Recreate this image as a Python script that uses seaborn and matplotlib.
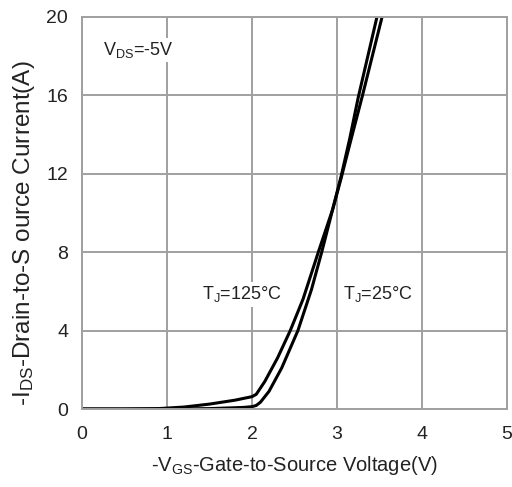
import matplotlib
matplotlib.use("Agg")
import matplotlib.pyplot as plt
import pandas as pd
import seaborn as sns

# Transfer characteristics: -I_DS versus -V_GS at V_DS = -5 V
vgs_125 = [0.0, 0.5, 0.9, 1.2, 1.5, 1.8, 2.0, 2.05, 2.15, 2.3, 2.45, 2.6, 2.78,
           2.95, 3.05, 3.15, 3.3, 3.53]
ids_125 = [0.0, 0.0, 0.02, 0.1, 0.25, 0.45, 0.63, 0.75, 1.4, 2.6, 4.0, 5.6, 8.0,
           10.2, 11.8, 13.5, 16.0, 20.0]

vgs_25 = [0.0, 1.0, 1.5, 1.9, 2.0, 2.05, 2.1, 2.2, 2.35, 2.54, 2.7, 2.82, 2.95,
          3.05, 3.15, 3.25, 3.47]
ids_25 = [0.0, 0.0, 0.02, 0.08, 0.12, 0.18, 0.35, 0.9, 2.1, 4.0, 6.1, 8.0, 10.2,
          11.9, 13.8, 15.9, 20.0]

x_ticks = [0, 1, 2, 3, 4, 5]
y_ticks = [0, 4, 8, 12, 16, 20]

sns.set_style("white")
plt.rcParams["font.family"] = ["Liberation Sans", "DejaVu Sans"]
plt.rcParams["mathtext.fontset"] = "custom"
plt.rcParams["mathtext.rm"] = "Liberation Sans"
plt.rcParams["mathtext.it"] = "Liberation Sans"

df = pd.concat([
    pd.DataFrame({"vgs": vgs_125, "ids": ids_125, "tj": "125"}),
    pd.DataFrame({"vgs": vgs_25, "ids": ids_25, "tj": "25"}),
])

fig = plt.figure(figsize=(5.12, 4.87), dpi=100)
ax = fig.add_axes([82 / 512, 1 - 409 / 487, (507 - 82) / 512, (409 - 17) / 487])

text_color = "#222222"
grid_color = "#a0a0a0"
sns.lineplot(data=df, x="vgs", y="ids", units="tj", estimator=None, sort=False,
             color="black", linewidth=2.2, ax=ax, legend=False)

ax.set_xlim(0, 5)
ax.set_ylim(0, 20)
ax.set_xticks(x_ticks)
ax.set_yticks(y_ticks)
ax.grid(True, color=grid_color, linewidth=1.4)
ax.set_axisbelow(True)
for s in ax.spines.values():
    s.set_color(grid_color)
    s.set_linewidth(1.4)
ax.tick_params(axis="both", length=0, labelsize=14, colors=text_color)
ax.tick_params(axis="x", pad=12)
ax.tick_params(axis="y", pad=10)

ax.set_xlabel(r"-V$_{\mathregular{GS}}$-Gate-to-Source Voltage(V)", fontsize=14.5,
              color=text_color)
ax.set_ylabel(r"-I$_{\mathregular{DS}}$-Drain-to-S ource Current(A)", fontsize=17.5,
              color=text_color)
ax.xaxis.set_label_coords(0.5, -0.115)
ax.yaxis.set_label_coords(-0.105, 0.448)

box = dict(facecolor="white", edgecolor="none", pad=1.5)
ax.text(0.25, 18.3, r"V$_{\mathregular{DS}}$=-5V", fontsize=13, color=text_color,
        va="center", bbox=box)
ax.text(1.41, 5.85, r"T$_{\mathregular{J}}$=125°C", fontsize=13, color=text_color,
        va="center", bbox=box)
ax.text(3.07, 5.85, r"T$_{\mathregular{J}}$=25°C", fontsize=13, color=text_color,
        va="center", bbox=box)

fig.savefig("out.png", dpi=100)
